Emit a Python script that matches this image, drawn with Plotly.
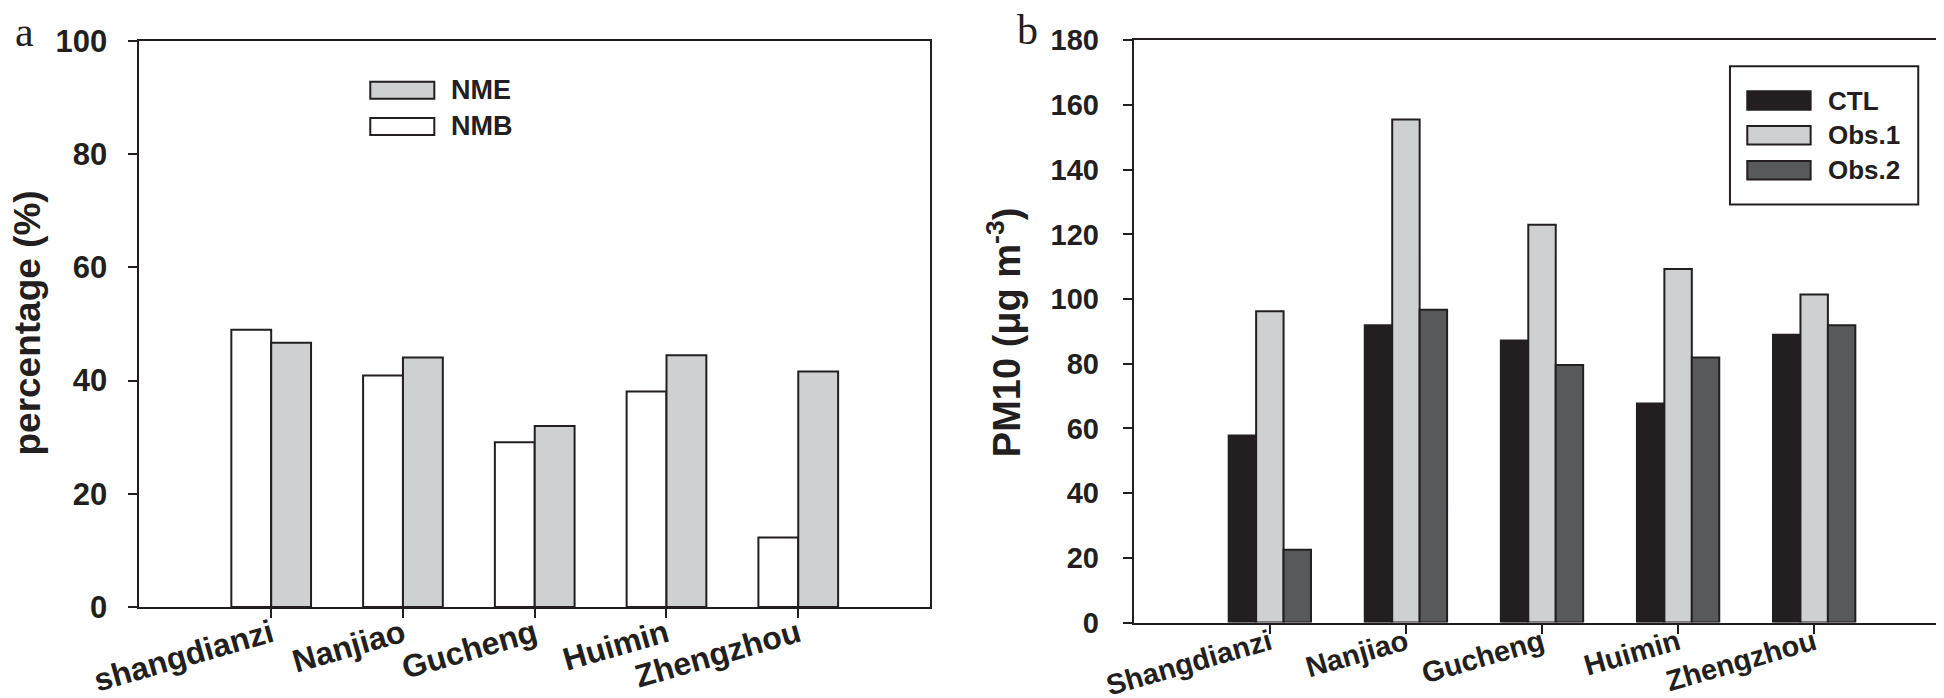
import plotly.graph_objects as go

# site names (panel a uses lower-case first site, as in the original)
sites_a = ["shangdianzi", "Nanjiao", "Gucheng", "Huimin", "Zhengzhou"]
sites_b = ["Shangdianzi", "Nanjiao", "Gucheng", "Huimin", "Zhengzhou"]

# panel a: normalized mean bias / error (%)
nmb = [49.0, 40.9, 29.1, 38.1, 12.3]
nme = [46.7, 44.1, 32.0, 44.5, 41.6]

# panel b: PM10 (ug m-3)
ctl = [57.8, 91.9, 87.2, 67.7, 89.0]
obs1 = [96.2, 155.5, 123.0, 109.3, 101.4]
obs2 = [22.5, 96.7, 79.6, 81.9, 91.9]

ticks_a = [0, 20, 40, 60, 80, 100]
ticks_b = [0, 20, 40, 60, 80, 100, 120, 140, 160, 180]

EDGE = "#231f20"
LIGHT = "#cfd0d2"
DARK = "#58595b"
FONT = "Liberation Sans"

fig = go.Figure()

fig.add_trace(go.Bar(x=sites_a, y=nmb, name="NMB", marker=dict(color="white", line=dict(color=EDGE, width=2)),
                     xaxis="x", yaxis="y"))
fig.add_trace(go.Bar(x=sites_a, y=nme, name="NME", marker=dict(color=LIGHT, line=dict(color=EDGE, width=2)),
                     xaxis="x", yaxis="y"))

fig.add_trace(go.Bar(x=sites_b, y=ctl, name="CTL", marker=dict(color=EDGE, line=dict(color=EDGE, width=2)),
                     xaxis="x2", yaxis="y2"))
fig.add_trace(go.Bar(x=sites_b, y=obs1, name="Obs.1", marker=dict(color=LIGHT, line=dict(color=EDGE, width=2)),
                     xaxis="x2", yaxis="y2"))
fig.add_trace(go.Bar(x=sites_b, y=obs2, name="Obs.2", marker=dict(color=DARK, line=dict(color=EDGE, width=2)),
                     xaxis="x2", yaxis="y2"))

axis_style = dict(showline=True, linecolor=EDGE, linewidth=2, mirror=True, ticks="outside", ticklen=9,
                  tickwidth=2, tickcolor=EDGE, showgrid=False, zeroline=False, automargin=False)

fig.update_layout(
    width=1944, height=698,
    margin=dict(l=0, r=0, t=0, b=0, autoexpand=False),
    paper_bgcolor="white", plot_bgcolor="white",
    showlegend=False,
    barmode="group", bargap=0.395, bargroupgap=0,
    xaxis=dict(domain=[0.0676, 0.4743], anchor="y", type="category", range=[-1, 5], tickangle=-16,
               ticklabelstandoff=-15,
               tickfont=dict(family=FONT, size=32, weight="bold", color=EDGE), **axis_style),
    yaxis=dict(domain=[0.1418, 0.9527], anchor="x", range=[0, 100], tickvals=ticks_a, ticklabelstandoff=15,
               tickfont=dict(family=FONT, size=31, weight="bold", color=EDGE), **axis_style),
    xaxis2=dict(domain=[0.5791, 0.9991], anchor="y2", type="category", range=[-1, 5], tickangle=-16,
                ticklabelstandoff=-19,
                tickfont=dict(family=FONT, size=29, weight="bold", color=EDGE), **axis_style),
    yaxis2=dict(domain=[0.1196, 0.9537], anchor="x2", range=[0, 180], tickvals=ticks_b, ticklabelstandoff=18,
                tickfont=dict(family=FONT, size=29, weight="bold", color=EDGE), **axis_style),
)


def add_key(names, fills, xref, yref, x0, x1, tops, h, tx, size):
    for name, fill, top in zip(names, fills, tops):
        fig.add_shape(type="rect", xref=xref, yref=yref, x0=x0, x1=x1, y0=top - h, y1=top,
                      fillcolor=fill, line=dict(color=EDGE, width=2))
        fig.add_annotation(xref=xref, yref=yref, x=tx, y=top - h / 2, text=name, showarrow=False,
                           xanchor="left", yanchor="middle",
                           font=dict(family=FONT, size=size, weight="bold", color=EDGE))


# legend of panel a (no frame)
add_key(["NME", "NMB"], [LIGHT, "white"], "x domain", "y domain", 0.2920, 0.3730,
        [0.9280, 0.8640], 0.03, 0.3920, 27)

# legend of panel b (framed)
fig.add_shape(type="rect", xref="x2 domain", yref="y2 domain", x0=0.7302, x1=0.9608, y0=0.7179, y1=0.9553,
              fillcolor="white", line=dict(color=EDGE, width=2), layer="above")
add_key(["CTL", "Obs.1", "Obs.2"], [EDGE, LIGHT, DARK], "x2 domain", "y2 domain", 0.7514, 0.8290,
        [0.9124, 0.8528, 0.7927], 0.0316, 0.8478, 26)

# axis titles
fig.add_annotation(xref="paper", yref="paper", x=0.0098, y=0.548, text="percentage (%)", textangle=-90,
                   xanchor="center", yanchor="middle", showarrow=False,
                   font=dict(family=FONT, size=37, weight="bold", color=EDGE))
fig.add_annotation(xref="paper", yref="paper", x=0.5125, y=0.536, text="PM10 (μg m<sup>-3</sup>)", textangle=-90,
                   xanchor="center", yanchor="middle", showarrow=False,
                   font=dict(family=FONT, size=38, weight="bold", color=EDGE))

# panel letters
fig.add_annotation(xref="paper", yref="paper", x=0.0085, y=0.9656, text="a", showarrow=False,
                   xanchor="center", yanchor="middle",
                   font=dict(family="Liberation Serif", size=42, color=EDGE))
fig.add_annotation(xref="paper", yref="paper", x=0.5245, y=0.968, text="b", showarrow=False,
                   xanchor="center", yanchor="middle",
                   font=dict(family="Liberation Serif", size=42, color=EDGE))

fig.write_html("out.html")
